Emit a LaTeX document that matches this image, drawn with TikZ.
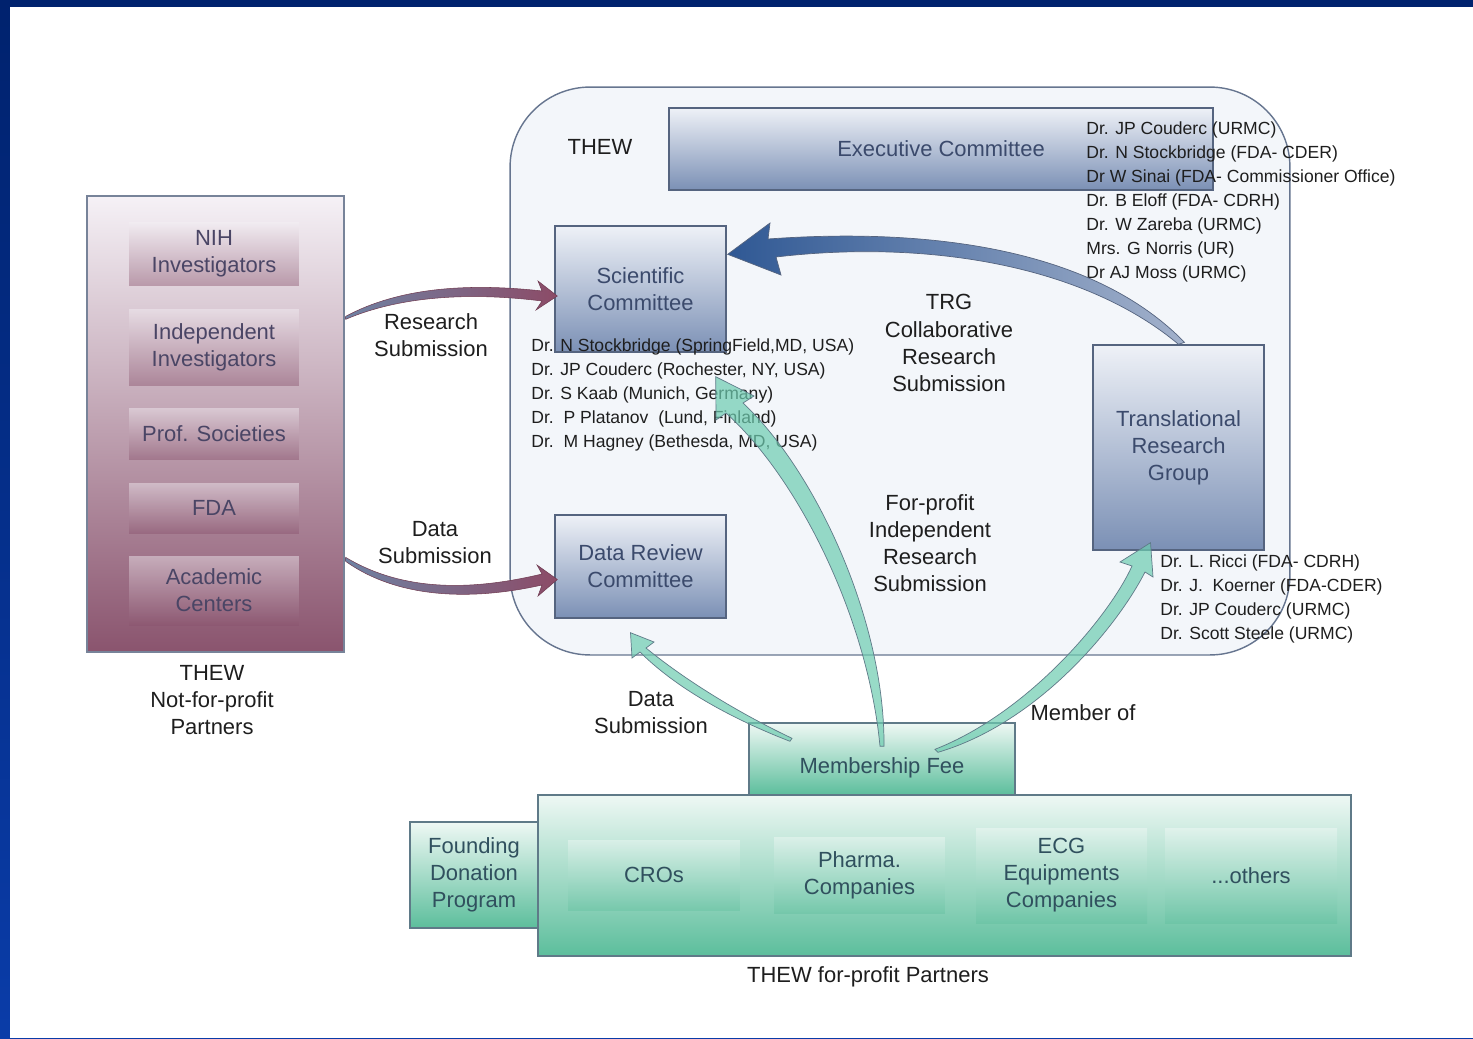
\documentclass[tikz,border=0pt]{standalone}
\usepackage{fontspec}
\setmainfont{Liberation Sans}
\usetikzlibrary{positioning,calc}

\definecolor{framedark}{HTML}{00226E}
\definecolor{framelight}{HTML}{0A3CA8}
\definecolor{thewfill}{HTML}{F3F6FA}
\definecolor{thewline}{HTML}{66758F}
\definecolor{bluetop}{HTML}{EEF1F7}
\definecolor{bluebot}{HTML}{7B90B5}
\definecolor{blueline}{HTML}{55647F}
\definecolor{bluetext}{HTML}{3B4A6C}
\definecolor{mauvetop}{HTML}{F5F1F6}
\definecolor{mauvebot}{HTML}{8A546E}
\definecolor{mauvetext}{HTML}{4A4565}
\definecolor{greentop}{HTML}{EEF8F4}
\definecolor{greenbot}{HTML}{5CBE9C}
\definecolor{greenline}{HTML}{5F7A88}
\definecolor{greentext}{HTML}{30505E}
\definecolor{arrowgreen}{HTML}{6DCCB0}
\definecolor{arrowblue}{HTML}{2F5894}
\definecolor{arrowmaroon}{HTML}{8C4B67}
\definecolor{labeltext}{HTML}{1E1E1E}

\newcommand{\thewbig}{\fontsize{12.5}{15.4}\selectfont}
\newcommand{\thewsmall}{\fontsize{10}{13.6}\selectfont}

\begin{document}
\begin{tikzpicture}[x=0.02cm, y=-0.02cm,
  plain/.style={align=center, font=\thewbig, text=labeltext, inner sep=0pt},
  memberlist/.style={align=left, font=\thewsmall, text=labeltext, inner sep=0pt, anchor=west},
  bluebox/.style={draw=blueline, line width=0.8pt, top color=bluetop, bottom color=bluebot,
    text=bluetext, align=center, font=\thewbig, inner sep=0pt},
  mauvebox/.style={top color=mauvetop, bottom color=mauvebot, fill opacity=0.45, text opacity=1,
    text=mauvetext, align=center, font=\thewbig, inner sep=0pt, minimum width=3.40cm},
  greenbox/.style={draw=greenline, line width=0.8pt, top color=greentop, bottom color=greenbot,
    text=greentext, align=center, font=\thewbig, inner sep=0pt},
  fadebox/.style={top color=white, bottom color=greenbot, fill opacity=0.35, text opacity=1,
    text=greentext, align=center, font=\thewbig, inner sep=0pt},
  greenarrow/.style={fill=arrowgreen, draw=greenline, line width=0.4pt, fill opacity=0.7},
  bluearrow/.style={left color=arrowblue, right color=bluebot!70, draw=blueline, line width=0.4pt},
  maroonarrow/.style={left color=bluebot!90!black, right color=arrowmaroon, draw=arrowmaroon!80!black, line width=0.3pt}]

  \useasboundingbox (0,0) rectangle (1473,1038);

  % Draw frame
  \shade[top color=framedark, bottom color=framelight] (0,0) rectangle (1473,1038);
  \fill[white] (10,7) rectangle (1473,1038);

  % Draw THEW area
  \node[draw=thewline, line width=0.8pt, fill=thewfill, rounded corners=1.6cm,
    minimum width=15.6cm, minimum height=11.36cm] (thew) at (900,371) {};
  \node[plain] (thewlbl) at (600,147) {THEW};

  % Committees
  \node[bluebox, minimum width=10.88cm, minimum height=1.64cm] (exec) at (941,149) {Executive Committee};
  \node[bluebox, minimum width=3.42cm, minimum height=2.52cm] (sci) at (640.5,289) {Scientific\\Committee};
  \node[bluebox, minimum width=3.42cm, minimum height=2.06cm] (drc) at (640.5,566.5) {Data Review\\Committee};
  \node[bluebox, minimum width=3.42cm, minimum height=4.10cm] (trg) at (1178.5,447.5) {Translational\\Research\\Group};

  % Not-for-profit partners
  \node[draw=blueline!80, line width=0.8pt, top color=mauvetop, bottom color=mauvebot,
    minimum width=5.14cm, minimum height=9.12cm] (left) at (215.5,424) {};
  \node[mauvebox, minimum height=1.28cm] (nih) at (214,254) {NIH\\Investigators};
  \node[mauvebox, minimum height=1.52cm] (indep) at (214,347) {Independent\\Investigators};
  \node[mauvebox, minimum height=1.02cm] (prof) at (214,433.5) {Prof. Societies};
  \node[mauvebox, minimum height=1.00cm] (fda) at (214,508) {FDA};
  \node[mauvebox, minimum height=1.38cm] (acad) at (214,590.5) {Academic\\Centers};
  \node[plain] (npp) at (212,700) {THEW\\Not-for-profit\\Partners};

  % For-profit partners
  \node[greenbox, minimum width=5.32cm, minimum height=1.44cm, text height=0.65cm, text depth=0.09cm] (fee) at (882,759) {Membership Fee};
  \node[greenbox, minimum width=2.56cm, minimum height=2.12cm] (found) at (474,875) {Founding\\Donation\\Program};
  \node[greenbox, minimum width=16.26cm, minimum height=3.22cm] (base) at (944.5,875.5) {};
  \node[fadebox, minimum width=3.44cm, minimum height=1.40cm] (cros) at (654,875) {CROs};
  \node[fadebox, minimum width=3.42cm, minimum height=1.52cm] (pharma) at (859.5,875) {Pharma.\\Companies};
  \node[fadebox, minimum width=3.42cm, minimum height=1.90cm] (ecg) at (1061.5,875.5) {ECG\\Equipments\\Companies};
  \node[fadebox, minimum width=3.44cm, minimum height=1.90cm] (others) at (1251,875.5) {...others};
  \node[plain] (fpp) at (868,977) {THEW for-profit Partners};

  % Member lists
  \node[memberlist] (execlist) at (1086,202) {Dr. JP Couderc (URMC)\\Dr. N Stockbridge (FDA- CDER)\\Dr W Sinai (FDA- Commissioner Office)\\Dr. B Eloff (FDA- CDRH)\\Dr. W Zareba (URMC)\\Mrs. G Norris (UR)\\Dr AJ Moss (URMC)};
  \node[memberlist] (scilist) at (531,395) {Dr. N Stockbridge (SpringField,MD, USA)\\Dr. JP Couderc (Rochester, NY, USA)\\Dr. S Kaab (Munich, Germany)\\Dr.\ \ P Platanov\ \ (Lund, Finland)\\Dr.\ \ M Hagney (Bethesda, MD, USA)};
  \node[memberlist] (trglist) at (1160,599) {Dr. L. Ricci (FDA- CDRH)\\Dr. J.\ \ Koerner (FDA-CDER)\\Dr. JP Couderc (URMC)\\Dr. Scott Steele (URMC)};

  % Arrow labels
  \node[plain] (rsublbl) at (431,335) {Research\\Submission};
  \node[plain] (dsublbl) at (435,543) {Data\\Submission};
  \node[plain] (trgsublbl) at (949,343) {TRG\\Collaborative\\Research\\Submission};
  \node[plain] (fpsublbl) at (930,543) {For-profit\\Independent\\Research\\Submission};
  \node[plain] (feesublbl) at (651,713) {Data\\Submission};
  \node[plain] (memlbl) at (1083,713) {Member of};

  % Arrow ends
  \coordinate (rsTail) at ($(left.north east)+(1,124)$);
  \coordinate (rsTip) at ($(sci.west)+(3,7)$);
  \coordinate (dsTail) at ($(left.north east)+(1,362)$);
  \coordinate (dsTip) at ($(drc.west)+(3,13)$);
  \coordinate (trgTail) at (trg.north);
  \coordinate (trgTip) at ($(sci.north east)+(1,29)$);
  \coordinate (feeTailA) at ($(fee.north)+(-92,19)$);
  \coordinate (feeTipA) at ($(drc.south)+(-10,14)$);
  \coordinate (feeTailB) at ($(fee.north)+(-2,24)$);
  \coordinate (feeTipB) at ($(sci.south east)+(-11,24)$);
  \coordinate (feeTailC) at ($(fee.north)+(53,27)$);
  \coordinate (feeTipC) at ($(trg.south)+(-28,-8)$);

  % Submissions from not-for-profit partners
  \shade[maroonarrow] (rsTail) .. controls (400,296) and (470,292) .. (542,301) -- (536,310) -- (rsTip)
    -- (538,281) -- (542,291) .. controls (470,283) and (400,287) .. ($(rsTail)+(0,-3)$) -- cycle;
  \shade[maroonarrow] (dsTail) .. controls (405,593) and (475,590) .. (542,574) -- (537,565) -- (dsTip)
    -- (538,596) -- (542,585) .. controls (475,600) and (400,600) .. ($(dsTail)+(0,4)$) -- cycle;

  % TRG submission
  \shade[bluearrow] (trgTail) .. controls (1080,262) and (920,240) .. (776,257) -- (781,275) -- (trgTip)
    -- (770,223) -- (768,239) .. controls (920,228) and (1090,245) .. ($(trgTail)+(6,-2)$) -- cycle;

  % From membership fee
  \draw[greenarrow] (feeTailA) .. controls (740,722) and (680,692) .. (640,652) -- (632,658) -- (feeTipA)
    -- (654,642) -- (646,648) .. controls (690,684) and (745,716) .. ($(feeTailA)+(2,-3)$) -- cycle;
  \draw[greenarrow] (feeTailB) .. controls (868,620) and (800,480) .. (726,413) -- (716,420) -- (feeTipB)
    -- (754,396) -- (743,403) .. controls (815,470) and (885,620) .. ($(feeTailB)+(4,0)$) -- cycle;
  \draw[greenarrow] (feeTailC) .. controls (1030,712) and (1110,615) .. (1132,566) -- (1120,562) -- (feeTipC)
    -- (1153,577) -- (1145,572) .. controls (1118,625) and (1040,722) .. ($(feeTailC)+(3,3)$) -- cycle;

\end{tikzpicture}
\end{document}
